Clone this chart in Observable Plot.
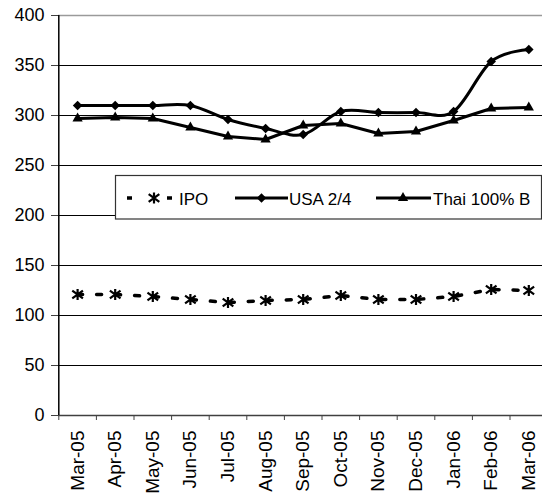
<!DOCTYPE html>
<html><head><meta charset="utf-8">
<script src="https://cdn.jsdelivr.net/npm/d3@7"></script>
<script src="https://cdn.jsdelivr.net/npm/@observablehq/plot@0.6"></script>
<style>
body{margin:0;background:#fff}
#chart{width:542px;height:494px;overflow:hidden}
</style>
</head><body><div id="chart"></div>
<script>
const months = ["Mar-05","Apr-05","May-05","Jun-05","Jul-05","Aug-05","Sep-05","Oct-05","Nov-05","Dec-05","Jan-06","Feb-06","Mar-06"];
const ipo  = [121,121,119,116,113,115,116,120,116,116,119,126,125];
const usa  = [310,310,310,310,296,287,281,304,303,303,304,354,366];
const thai = [297,298,297,288,279,276,290,292,282,284,295,307,308];
const yTicks = [0,50,100,150,200,250,300,350,400];
const seriesNames = ["IPO","USA 2/4","Thai 100% B"];

const rows = months.map((m,i)=>({i:i+0.5, month:m, ipo:ipo[i], usa:usa[i], thai:thai[i]}));

// Excel-like "*" marker: X plus vertical bar
const asterisk = {
  draw(ctx, size){
    const r = Math.sqrt(size/Math.PI);
    ctx.moveTo(0,-r); ctx.lineTo(0,r);
    ctx.moveTo(-r*0.95,-r*0.7); ctx.lineTo(r*0.95,r*0.7);
    ctx.moveTo(-r*0.95,r*0.7); ctx.lineTo(r*0.95,-r*0.7);
  }
};

const font = "'Liberation Sans', Arial, sans-serif";

const chart = Plot.plot({
  width:542, height:494,
  marginLeft:58, marginRight:0, marginTop:15, marginBottom:79,
  style:{fontFamily:font, fontSize:"18px", color:"black", background:"white", overflow:"hidden"},
  x:{type:"linear", domain:[0,13], range:[58.3,547.1]},
  y:{domain:[0,400], range:[415,15]},
  marks:[
    Plot.gridY(yTicks.filter(v=>v>0 && v<400), {stroke:"black", strokeOpacity:1, strokeWidth:1}),
    Plot.ruleY([400], {stroke:"#9a9a9a", strokeWidth:1.5}),
    Plot.ruleY([0], {stroke:"#404040", strokeWidth:1.5}),
    Plot.ruleX([0], {y1:0, y2:400, stroke:"black", strokeWidth:1.5}),
    Plot.axisY(yTicks, {tickSize:7, tickPadding:7, fontSize:18, label:null, stroke:"#404040"}),
    Plot.axisX(d3.range(13), {tickSize:5, tickFormat:()=> "", label:null, stroke:"#404040"}),
    Plot.axisX(rows.map(d=>d.i), {tickSize:0, tickPadding:15, tickRotate:-90, fontSize:19, label:null,
      tickFormat: v => months[Math.floor(v)]}),
    Plot.line(rows, {x:"i", y:"ipo", stroke:"black", strokeWidth:3.5, strokeDasharray:"5,14"}),
    Plot.line(rows, {x:"i", y:"thai", stroke:"black", strokeWidth:3}),
    Plot.line(rows, {x:"i", y:"usa", stroke:"black", strokeWidth:3, curve:"cardinal", tension:0}),
    Plot.dot(rows, {x:"i", y:"ipo", symbol:asterisk, r:5.6, stroke:"black", strokeWidth:2.2, fill:"none"}),
    Plot.dot(rows, {x:"i", y:"thai", symbol:"triangle", r:3.8, fill:"black", stroke:"none"}),
    Plot.dot(rows, {x:"i", y:"usa", symbol:"diamond2", r:4.3, fill:"black", stroke:"none"})
  ]
});
document.getElementById("chart").appendChild(chart);

// Legend inside the plot area
const svg = d3.select(chart);
const lg = svg.append("g").attr("font-family", font).attr("font-size", 17).attr("text-anchor","start");
lg.append("rect").attr("x",115.5).attr("y",175.5).attr("width",426).attr("height",43.5)
  .attr("fill","white").attr("stroke","#333").attr("stroke-width",1.2);
const cy = 198;
// IPO
lg.append("line").attr("x1",127).attr("x2",172).attr("y1",cy).attr("y2",cy)
  .attr("stroke","black").attr("stroke-width",3.5).attr("stroke-dasharray","5,35");
lg.append("path").attr("transform",`translate(154,${cy})`)
  .attr("d", (()=>{const p=d3.path(); asterisk.draw(p, 5.6*5.6*Math.PI); return p.toString();})())
  .attr("stroke","black").attr("stroke-width",2.2).attr("fill","none");
lg.append("text").attr("x",179).attr("y",205).text(seriesNames[0]);
// USA
lg.append("line").attr("x1",235).attr("x2",288).attr("y1",cy).attr("y2",cy)
  .attr("stroke","black").attr("stroke-width",3);
lg.append("path").attr("transform",`translate(261.5,${cy})`)
  .attr("d", d3.symbol(d3.symbolDiamond2, 4.3*4.3*Math.PI)()).attr("fill","black");
lg.append("text").attr("x",289).attr("y",205).text(seriesNames[1]);
// Thai
lg.append("line").attr("x1",376).attr("x2",431).attr("y1",cy).attr("y2",cy)
  .attr("stroke","black").attr("stroke-width",3);
lg.append("path").attr("transform",`translate(403,${cy})`)
  .attr("d", d3.symbol(d3.symbolTriangle, 3.8*3.8*Math.PI)()).attr("fill","black");
lg.append("text").attr("x",433).attr("y",205).text(seriesNames[2]);
</script>
</body></html>
